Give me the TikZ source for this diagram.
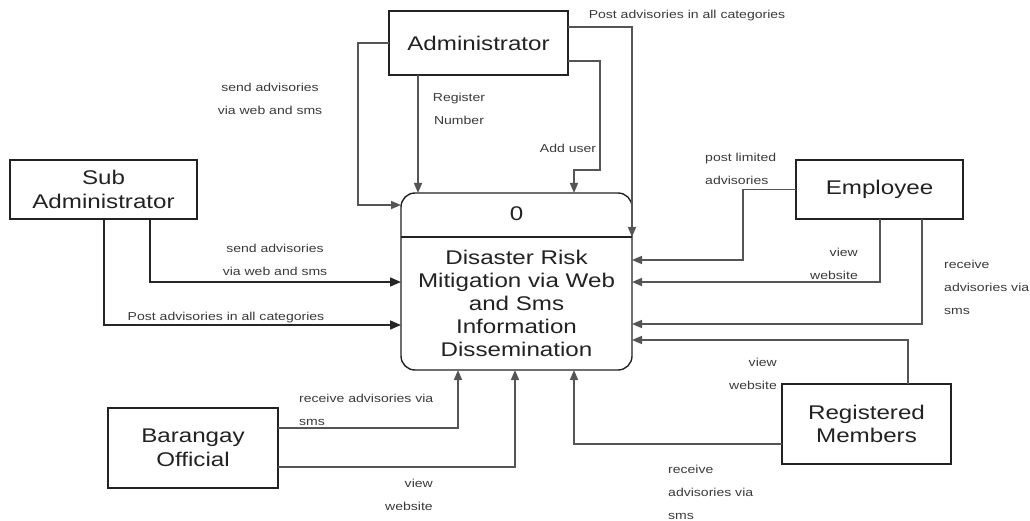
\documentclass[tikz,border=0pt]{standalone}
\usepackage{fontspec}
\setmainfont{Liberation Sans}[FakeStretch=1.22]
\usetikzlibrary{arrows.meta}
\definecolor{linegray}{HTML}{555555}
\definecolor{textdark}{HTML}{222222}
\definecolor{labelgray}{HTML}{3A3A3A}
\begin{document}
\begin{tikzpicture}[x=1pt,y=-1pt,
  entity/.style={draw=textdark, line width=1.4pt, align=center, inner sep=0, outer sep=0,
    text=textdark, font=\fontsize{19.8}{23.5}\selectfont},
  procbox/.style={draw=textdark, line width=1.4pt, rounded corners=14pt, inner sep=0, outer sep=0,
    minimum width=231pt, minimum height=177pt},
  proctext/.style={align=center, inner sep=0, text=textdark, font=\fontsize{19.8}{23}\selectfont},
  lbl/.style={inner sep=0, text=labelgray, font=\fontsize{11.5}{23}\selectfont},
  flow/.style={draw=linegray, line width=1.6pt, -{Triangle[length=10pt,width=8pt]}},
  flowdark/.style={draw=black!85, line width=1.6pt, -{Triangle[length=11pt,width=9pt]}}
]
\useasboundingbox (0,0) rectangle (1030,521);

% nodes
\node[procbox] (proc) at (516.5,281.5) {};
\draw[draw=textdark, line width=1.4pt] (proc.west |- 0,237) -- (proc.east |- 0,237);
\node[proctext] (pnum) at (516.5,214) {0};
\node[proctext] (ptitle) at (516.5,303) {Disaster Risk\\Mitigation via Web\\and Sms\\Information\\Dissemination};

\node[entity, minimum width=179pt, minimum height=64pt] (admin) at (478.5,43) {Administrator};
\node[entity, minimum width=187pt, minimum height=59pt] (sub) at (103.5,189.5) {Sub\\Administrator};
\node[entity, minimum width=167pt, minimum height=59pt] (emp) at (879.5,189.5) {Employee};
\node[entity, minimum width=169pt, minimum height=80pt] (reg) at (866.5,424) {Registered\\Members};
\node[entity, minimum width=170pt, minimum height=80pt] (bar) at (193,448) {Barangay\\Official};

% Administrator flows
\draw[flow] (admin.west) -- ++(-31,0) |- (proc.west |- 0,205);
\draw[flow] (admin.south -| 418,0) -- (proc.north -| 418,0);
\draw[flow] (admin.east |- 0,61) -- (600,61) -- (600,170) -- (574,170) -- (proc.north -| 574,0);
\draw[flow] (admin.east |- 0,27) -| (proc.east |- 0,237);

% Sub Administrator flows
\draw[flowdark] (sub.south -| 150,0) |- (proc.west |- 0,282);
\draw[flowdark] (sub.south -| 104,0) |- (proc.west |- 0,325);

% Employee flows
\draw[flow] (emp.west) -| (743,260) -- (proc.east |- 0,260);
\draw[flow] (emp.south -| 880,0) |- (proc.east |- 0,282);
\draw[flow] (emp.south -| 922,0) |- (proc.east |- 0,324);

% Registered Members flows
\draw[flow] (reg.north -| 908,0) |- (proc.east |- 0,340);
\draw[flow] (reg.west |- 0,444) -| (proc.south -| 574,0);

% Barangay Official flows
\draw[flow] (bar.east |- 0,428) -| (proc.south -| 458,0);
\draw[flow] (bar.east |- 0,467) -| (proc.south -| 515,0);

% labels
\node[lbl] (l1) at (687,16) {Post advisories in all categories};
\node[lbl, align=center] (l2) at (270,98.5) {send advisories\\via web and sms};
\node[lbl, align=center] (l3) at (459,108.5) {Register\\Number};
\node[lbl] (l4) at (568,148) {Add user};
\node[lbl, align=left, anchor=west] (l5) at (705,168.5) {post limited\\advisories};
\node[lbl, align=right, anchor=east] (l6) at (858,263.5) {view\\website};
\node[lbl, align=left, anchor=west] (l7) at (944,287) {receive\\advisories via\\sms};
\node[lbl, align=right, anchor=east] (l8) at (777,373.5) {view\\website};
\node[lbl, align=left, anchor=west] (l9) at (668,492.5) {receive\\advisories via\\sms};
\node[lbl, align=left, anchor=west] (l10) at (299,409.5) {receive advisories via\\sms};
\node[lbl, align=right, anchor=east] (l11) at (433,494.5) {view\\website};
\node[lbl, align=center] (l12) at (275,259.5) {send advisories\\via web and sms};
\node[lbl] (l13) at (226,318) {Post advisories in all categories};
\end{tikzpicture}
\end{document}
